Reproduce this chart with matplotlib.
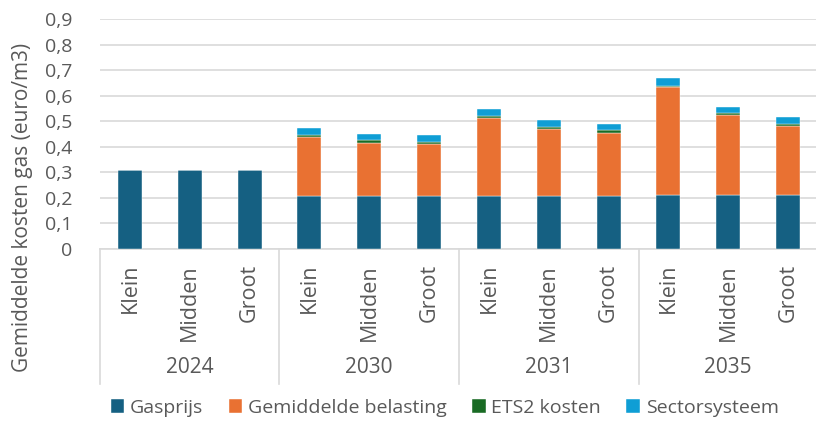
import matplotlib.pyplot as plt
import numpy as np

plt.rcParams['font.family'] = ['Open Sans', 'DejaVu Sans']

years = ["2024", "2030", "2031", "2035"]
sizes = ["Klein", "Midden", "Groot"]

# values per bar (euro/m3), order: 2024 K/M/G, 2030 K/M/G, 2031 K/M/G, 2035 K/M/G
gasprijs = [0.310, 0.310, 0.310, 0.206, 0.206, 0.206, 0.206, 0.206, 0.206, 0.210, 0.210, 0.210]
belasting = [0.0, 0.0, 0.0, 0.234, 0.210, 0.205, 0.308, 0.262, 0.249, 0.422, 0.313, 0.273]
ets2 = [0.0, 0.0, 0.0, 0.008, 0.009, 0.008, 0.008, 0.009, 0.009, 0.007, 0.008, 0.008]
sector = [0.0, 0.0, 0.0, 0.026, 0.026, 0.026, 0.025, 0.026, 0.024, 0.029, 0.026, 0.026]

series = [
    ("Gasprijs", gasprijs, "#156082"),
    ("Gemiddelde belasting", belasting, "#E97132"),
    ("ETS2 kosten", ets2, "#196B24"),
    ("Sectorsysteem", sector, "#0F9ED5"),
]

text_color = "#595959"
grid_color = "#D9D9D9"

fig = plt.figure(figsize=(8.16, 4.32), dpi=100)
ax = fig.add_axes([0.1225, 0.4236, 0.88, 0.5324])

x = np.arange(len(gasprijs))
bottom = np.zeros(len(x))
for name, vals, col in series:
    ax.bar(x, vals, width=0.4, bottom=bottom, color=col, label=name,
           edgecolor="white", linewidth=0.3, zorder=3)
    bottom += np.array(vals)

ax.set_xlim(-0.5, len(x) - 0.5)
ax.set_ylim(0, 0.9)
ax.set_yticks(np.arange(0, 0.91, 0.1))
ax.set_yticklabels([("%.1f" % v).replace(".", ",") if v > 0 else "0"
                    for v in np.arange(0, 0.91, 0.1)])
ax.tick_params(axis="y", length=0, pad=20, labelsize=14, labelcolor=text_color)
ax.set_xticks([])
ax.grid(axis="y", color=grid_color, linewidth=1.2, zorder=0)
for s in ["top", "right", "left"]:
    ax.spines[s].set_visible(False)
ax.spines["bottom"].set_color(grid_color)
ax.spines["bottom"].set_linewidth(1.2)

# multi-level category labels
for i in x:
    ax.text(i, -0.065, sizes[i % 3], rotation=90, ha="center", va="top",
            fontsize=15.5, color=text_color, transform=ax.get_xaxis_transform())
for g, yr in enumerate(years):
    ax.text(g * 3 + 1, -0.517, yr, ha="center", va="center", fontsize=15,
            color=text_color, transform=ax.get_xaxis_transform())
for g in range(len(years) + 1):
    ax.plot([g * 3 - 0.5, g * 3 - 0.5], [0, -0.587], color=grid_color,
            linewidth=1.2, clip_on=False, transform=ax.get_xaxis_transform())

fig.text(0.027, 0.519, "Gemiddelde kosten gas (euro/m3)", rotation=90,
         ha="center", va="center", fontsize=15, color=text_color)

leg = fig.legend(loc="lower center", bbox_to_anchor=(0.545, -0.005), ncol=4,
                 frameon=False, fontsize=14,
                 handlelength=0.7, handleheight=0.7,
                 handletextpad=0.3, columnspacing=1.3)
for t in leg.get_texts():
    t.set_color(text_color)

fig.savefig("out.png", dpi=100)
